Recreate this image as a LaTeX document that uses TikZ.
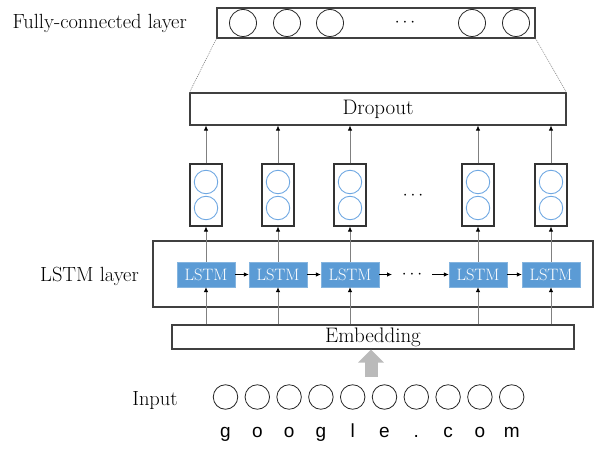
\documentclass[tikz,border=0pt]{standalone}
\usepackage{fontspec}
\usepackage{tikz}
\usetikzlibrary{arrows.meta}
\newfontfamily\letterfont{Liberation Sans}
\definecolor{lstmblue}{RGB}{91,155,213}
\definecolor{cellblue}{RGB}{112,168,226}

\begin{document}
\begin{tikzpicture}[>=latex,x=1pt,y=-1pt]
\tikzstyle{layerbox}=[rectangle,draw=black!75,line width=1.1pt,fill=white,inner sep=0pt,
                      font=\fontsize{21}{24}\selectfont]
\tikzstyle{label}=[font=\fontsize{20.5}{24}\selectfont,inner sep=0pt]
\tikzstyle{dotsign}=[font=\fontsize{16.5}{19}\selectfont,inner sep=0pt]
\tikzstyle{unit}=[circle,draw=black!85,line width=0.8pt,inner sep=0pt]
\tikzstyle{cellbox}=[rectangle,draw=black!80,line width=1.1pt,minimum width=32pt,minimum height=62pt,inner sep=0pt]
\tikzstyle{cellunit}=[circle,draw=cellblue,line width=0.9pt,minimum size=23.5pt,inner sep=0pt]
\tikzstyle{lstm}=[rectangle,fill=lstmblue,draw=lstmblue!75!white,text=white,minimum width=58pt,
                  minimum height=25pt,inner sep=0pt,font=\fontsize{16.5}{19}\selectfont]
\tikzstyle{conn}=[draw=black!50,line width=0.8pt,-{Latex[color=black,length=5pt,width=4.5pt]}]
\tikzstyle{link}=[draw=black,line width=0.8pt,-{Latex[length=5pt,width=4.5pt]}]
\useasboundingbox (0,0) rectangle (594,454);

% --- Fully-connected layer ---
\node[label,anchor=base east] (fclabel) at (187,29) {Fully-connected layer};
\node[layerbox,minimum width=318pt,minimum height=30pt] (fc) at (376,23) {};
\foreach \x [count=\i] in {243,287,330,472,516}
  \node[unit,minimum size=27pt] (fcu\i) at (\x,23) {};
\node[dotsign] (fcdots) at (405,23) {$\cdots$};

% --- Dropout ---
\node[layerbox,minimum width=376pt,minimum height=32pt] (drop) at (378,109) {Dropout};
\draw[draw=black!50,line width=0.6pt,dash pattern=on 1pt off 1pt] (fc.south west) -- (drop.north west);
\draw[draw=black!50,line width=0.6pt,dash pattern=on 1pt off 1pt] (fc.south east) -- (drop.north east);

% --- LSTM layer and embedding boxes ---
\node[label,anchor=base east] (lstmlabel) at (139,282) {LSTM layer};
\node[layerbox,minimum width=440pt,minimum height=66pt] (lstmlayer) at (373,274) {};
\node[layerbox,minimum width=402pt,minimum height=24pt] (emb) at (373,337) {Embedding};

% --- cells and LSTM blocks ---
\foreach \x [count=\i] in {206,278,350,478,551} {
  \node[cellbox] (cell\i) at (\x,195) {};
  \node[cellunit] (cell\i a) at (\x,182) {};
  \node[cellunit] (cell\i b) at (\x,208) {};
  \node[lstm] (lstm\i) at (\x,274.5) {LSTM};
}
\node[dotsign] (celldots) at (413,196) {$\cdots$};
\node[dotsign] (lstmdots) at (412,275) {$\cdots$};
\coordinate (gapleft) at (392,274.5);
\coordinate (gapright) at (432,274.5);

% --- Arrows ---
\foreach \i in {1,...,5} {
  \draw[conn] (cell\i.north) -- (cell\i.north |- drop.south);
  \draw[conn] (lstm\i.north) -- (cell\i.south);
  \draw[conn] (lstm\i.south |- emb.north) -- (lstm\i.south);
}
\draw[link] (lstm1.east) -- (lstm2.west);
\draw[link] (lstm2.east) -- (lstm3.west);
\draw[link] (lstm3.east) -- (gapleft);
\draw[link] (gapright) -- (lstm4.west);
\draw[link] (lstm4.east) -- (lstm5.west);

% --- Input ---
\node[label,anchor=base] (inlabel) at (155,405) {Input};
\foreach \ch [count=\i from 0] in {g,o,o,g,l,e,.,c,o,m} {
  \node[unit,minimum size=24.5pt] (in\i) at (225.5+31.8*\i,397) {};
  \node[anchor=base,inner sep=0pt,font=\letterfont\fontsize{19}{22}\selectfont] (ch\i) at (225.5+31.8*\i,437) {\ch};
}
\coordinate (fatstart) at (371,377);
\draw[line width=13pt,draw=black!27,-{Triangle[width=25pt,length=13pt]}] (fatstart) -- (fatstart |- emb.south);

\end{tikzpicture}
\end{document}
